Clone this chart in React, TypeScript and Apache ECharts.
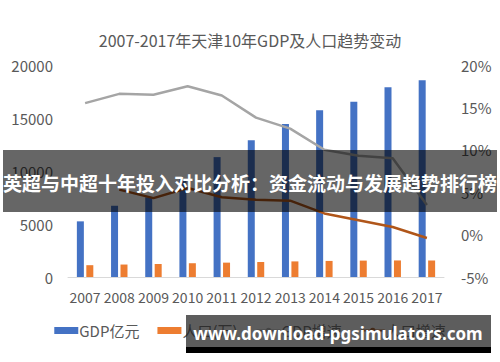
import React, { useEffect, useRef } from "react";
import * as echarts from "echarts";

const years = ["2007", "2008", "2009", "2010", "2011", "2012", "2013", "2014", "2015", "2016", "2017"];
const gdp = [5250, 6720, 7520, 9220, 11310, 12890, 14440, 15730, 16540, 17890, 18550];
const population = [1115, 1176, 1228, 1299, 1355, 1413, 1472, 1517, 1547, 1562, 1557];
const gdpGrowth = [15.5, 16.6, 16.5, 17.5, 16.4, 13.8, 12.5, 10.0, 9.3, 9.0, 3.5];
const popGrowth: (number | string)[] = ["-", 5.3, 4.3, 5.5, 4.4, 4.1, 4.0, 2.5, 1.7, 0.9, -0.4];

const FONT = "'Noto Sans CJK SC', 'Noto Sans', sans-serif";
const TXT = "#595959";

export default function App() {
  const ref = useRef<HTMLDivElement>(null);
  useEffect(() => {
    if (!ref.current) return;
    const chart = echarts.init(ref.current, null, { renderer: "svg" });
    chart.setOption({
      animation: false,
      backgroundColor: "#ffffff",
      textStyle: { fontFamily: FONT },
      title: {
        text: "2007-2017年天津10年GDP及人口趋势变动",
        left: "center",
        top: 27,
        textStyle: { fontSize: 16, fontWeight: "normal", color: TXT, fontFamily: FONT },
      },
      legend: {
        left: "center",
        top: 318,
        itemWidth: 24,
        itemHeight: 7,
        itemGap: 18,
        textStyle: { fontSize: 15, color: TXT, fontFamily: FONT, padding: [0, 0, 0, -4] },
        data: [
          { name: "GDP亿元", icon: "rect" },
          { name: "人口(万)", icon: "rect" },
          { name: "GDP增速" },
          { name: "人口增速" },
        ],
      },
      grid: { left: 68, right: 56, top: 65, bottom: 85 },
      xAxis: {
        type: "category",
        data: years,
        axisLine: { lineStyle: { color: "#D9D9D9", width: 1 } },
        axisTick: { show: false },
        axisLabel: { color: TXT, fontSize: 14, margin: 13, fontFamily: FONT, interval: 0 },
      },
      yAxis: [
        {
          type: "value",
          min: 0,
          max: 20000,
          interval: 5000,
          axisLine: { show: false },
          axisTick: { show: false },
          splitLine: { show: false },
          axisLabel: {
            color: TXT,
            fontSize: 15,
            margin: 15,
            fontFamily: FONT,
            formatter: (v: number) => String(v),
          },
        },
        {
          type: "value",
          min: -5,
          max: 20,
          interval: 5,
          axisLine: { show: false },
          axisTick: { show: false },
          splitLine: { show: false },
          axisLabel: { color: TXT, fontSize: 15, margin: 17, fontFamily: FONT, formatter: "{value}%" },
        },
      ],
      series: [
        {
          name: "GDP亿元",
          type: "bar",
          data: gdp,
          barWidth: 7,
          barGap: "35%",
          itemStyle: { color: "#4472C4" },
        },
        {
          name: "人口(万)",
          type: "bar",
          data: population,
          barWidth: 7,
          itemStyle: { color: "#ED7D31" },
        },
        {
          name: "GDP增速",
          type: "line",
          yAxisIndex: 1,
          data: gdpGrowth,
          symbol: "none",
          lineStyle: { color: "#A5A5A5", width: 2.5 },
          itemStyle: { color: "#A5A5A5" },
        },
        {
          name: "人口增速",
          type: "line",
          yAxisIndex: 1,
          data: popGrowth,
          symbol: "none",
          lineStyle: { color: "#B0561A", width: 2.5 },
          itemStyle: { color: "#9E480E" },
        },
      ],
      graphic: [
        {
          type: "rect",
          shape: { x: 3, y: 150, width: 494, height: 62 },
          style: { fill: "rgba(0,0,0,0.6)" },
          z: 100,
        },
        {
          type: "text",
          x: 250,
          y: 182,
          style: {
            text: "英超与中超十年投入对比分析：资金流动与发展趋势排行榜",
            fill: "#ffffff",
            font: "bold 19px 'Noto Sans CJK SC', sans-serif",
            align: "center",
            verticalAlign: "middle",
          },
          z: 101,
        },
        {
          type: "rect",
          shape: { x: 186, y: 315, width: 305, height: 33 },
          style: { fill: "rgba(30,30,30,0.72)" },
          z: 100,
        },
        {
          type: "rect",
          shape: { x: 186, y: 347, width: 305, height: 6 },
          style: { fill: "#000000" },
          z: 100,
        },
        {
          type: "text",
          x: 338,
          y: 333,
          style: {
            text: "www.download-pgsimulators.com",
            fill: "#ffffff",
            font: "bold 17px 'Noto Sans', sans-serif",
            align: "center",
            verticalAlign: "middle",
          },
          z: 101,
        },
      ],
    });
    return () => chart.dispose();
  }, []);
  return (
    <div
      ref={ref}
      style={{ position: "absolute", left: 0, top: 0, width: 500, height: 362 }}
    />
  );
}
